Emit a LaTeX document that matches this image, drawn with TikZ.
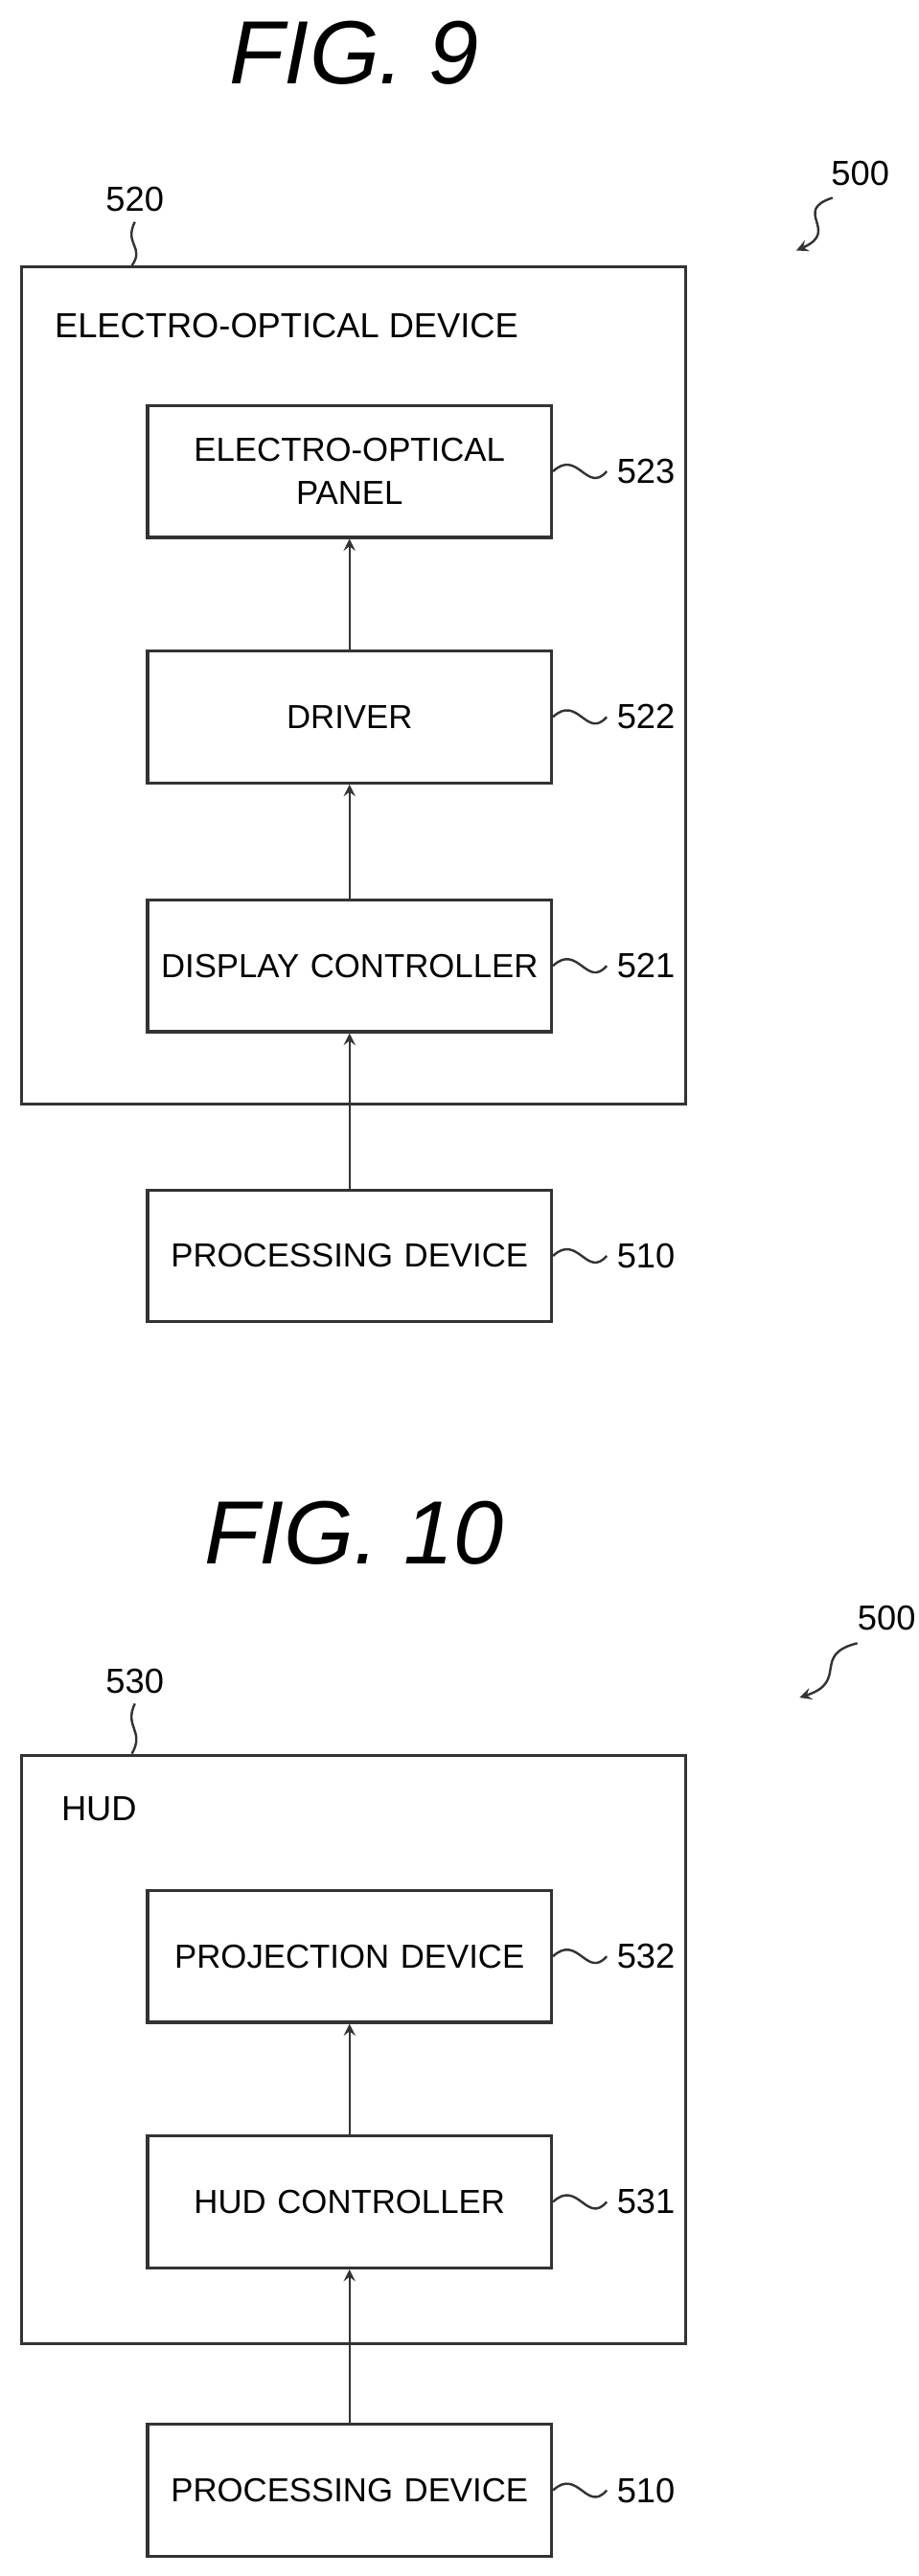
\documentclass[tikz,border=0pt]{standalone}
\usepackage{fontspec}
\setmainfont{Liberation Sans}
\usetikzlibrary{positioning,arrows}
\tikzset{
  blk/.style={draw=black!80,line width=1.1pt,minimum width=4.9cm,text width=4.9cm,minimum height=1.6cm,inner sep=0pt,align=center,font=\fontsize{11.5}{15}\selectfont},
  frame/.style={draw=black!80,line width=1.1pt},
  lbl/.style={font=\fontsize{12}{15}\selectfont,anchor=west},
  ttl/.style={font=\fontsize{31}{36}\itshape},
  flow/.style={->,>=stealth,black!80,line width=0.8pt},
  lead/.style={black!80,line width=0.8pt}
}
\begin{document}
\begin{tikzpicture}[x=0.02cm,y=-0.02cm]
\useasboundingbox (0,0) rectangle (557,1563);

% FIG. 9
\node[ttl] (t9) at (215,32) {FIG. 9};
\node[lbl] (n500a) at (498,105) {500};
\coordinate (e500a) at (483,152);
\draw[lead,->,>=stealth] (505,120) .. controls (480,128) and (510,140) .. (e500a);
\node[frame,minimum width=8.06cm,minimum height=10.16cm] (b520) at (214.5,416) {};
\node[lbl] (n520) at (58,121) {520};
\draw[lead] (n520.south) .. controls (75,148) and (88,150) .. (b520.north -| 80,0);
\node[lbl,anchor=north west] (h520) at (27,184) {ELECTRO-OPTICAL DEVICE};

\node[blk] (b523) at (212,286) {ELECTRO-OPTICAL\\PANEL};
\node[blk] (b522) at (212,435) {DRIVER};
\node[blk] (b521) at (212,586) {DISPLAY~CONTROLLER};
\node[blk] (b510a) at (212,762) {PROCESSING DEVICE};
\foreach \n/\t/\y in {523/523/286,522/522/435,521/521/586,510a/510/762}{
  \node[lbl] (n\n) at (368,\y) {\t};
  \draw[lead] (b\n.east) .. controls +(15,-14) and +(-12,14) .. (n\n.west);
}
\draw[flow] (b522) -- (b523);
\draw[flow] (b521) -- (b522);
\draw[flow] (b510a) -- (b521);

% FIG. 10
\node[ttl] (t10) at (215,930) {FIG. 10};
\node[lbl] (n500b) at (514,982) {500};
\coordinate (e500b) at (485,1030);
\draw[lead,->,>=stealth] (520,997) .. controls (492,1004) and (515,1020) .. (e500b);
\node[frame,minimum width=8.06cm,minimum height=7.14cm] (b530) at (214.5,1243.5) {};
\node[lbl] (n530) at (58,1020) {530};
\draw[lead] (n530.south) .. controls (75,1048) and (88,1050) .. (b530.north -| 80,0);
\node[lbl,anchor=north west] (h530) at (31,1084) {HUD};

\node[blk] (b532) at (212,1187) {PROJECTION DEVICE};
\node[blk] (b531) at (212,1336) {HUD CONTROLLER};
\node[blk] (b510b) at (212,1511) {PROCESSING DEVICE};
\foreach \n/\t/\y in {532/532/1187,531/531/1336,510b/510/1511}{
  \node[lbl] (n\n) at (368,\y) {\t};
  \draw[lead] (b\n.east) .. controls +(15,-14) and +(-12,14) .. (n\n.west);
}
\draw[flow] (b531) -- (b532);
\draw[flow] (b510b) -- (b531);
\end{tikzpicture}
\end{document}
